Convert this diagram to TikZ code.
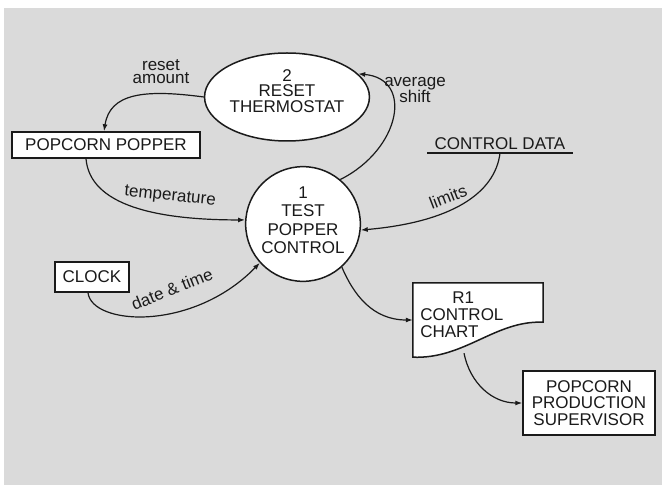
\documentclass[tikz,border=0pt]{standalone}
\usepackage{fontspec}
\setmainfont{Liberation Sans}
\usepackage{tikz}
\usetikzlibrary{positioning, arrows.meta, shapes.geometric}
\definecolor{scanGray}{HTML}{DADADA}
\definecolor{inkBlack}{HTML}{1A1A1A}
\newcommand{\dfdfont}[1]{\fontsize{17}{#1}\selectfont}

\begin{document}
\begin{tikzpicture}[x=1pt, y=1pt,
  every node/.style={font=\dfdfont{15.5}, color=inkBlack},
  entity/.style={draw=inkBlack, fill=white, line width=1.5pt, align=center, inner sep=1pt},
  process/.style={draw=inkBlack, fill=white, line width=1.5pt, align=center, inner sep=1pt},
  flow/.style={-{Latex[length=7pt, width=5pt]}, line width=1.2pt, inkBlack},
  flowlabel/.style={inner sep=1pt, align=center}]
  % page: white scan edge, gray sheet
  \useasboundingbox (0,0) rectangle (662,485);
  \fill[white] (0,0) rectangle (662,485);
  \fill[scanGray] (4,0) rectangle (662,477);

  % processes
  \node[process, ellipse, minimum width=134, minimum height=88, text depth=12pt] (rst) at (287,388) {2\\RESET\\THERMOSTAT};
  \node[process, circle, minimum size=110, text depth=8pt, font=\dfdfont{18.5}] (tpc) at (303,261) {1\\TEST\\POPPER\\CONTROL};

  % external entities
  \node[entity, minimum width=188, minimum height=26] (pop) at (106,340) {POPCORN POPPER};
  \node[entity, minimum width=74, minimum height=30] (clk) at (92,208) {CLOCK};
  \node[entity, minimum width=132, minimum height=64, font=\dfdfont{16.5}] (sprv) at (589,82) {POPCORN\\PRODUCTION\\SUPERVISOR};

  % data store
  \node[inner xsep=7pt, inner ysep=3pt] (cdat) at (500,341) {CONTROL DATA};
  \draw[line width=1.5pt, inkBlack] (cdat.south west) -- (cdat.south east);

  % report: document shape with wavy bottom
  \node[minimum width=130, minimum height=74, inner sep=0pt] (r1) at (478,165) {};
  \draw[line width=1.5pt, inkBlack, fill=white] (r1.south west) -- (r1.north west) -- (r1.north east)
    -- ([yshift=35]r1.south east) .. controls +(-48,2) and +(52,-2) .. (r1.south west) -- cycle;
  \node[anchor=north west, align=left, font=\dfdfont{17}] (r1txt) at ([xshift=4, yshift=-5]r1.north west) {\hspace*{32pt}R1\\CONTROL\\CHART};

  % flows
  \draw[flow] (rst.west) .. controls +(-60,8) and +(6,38) .. ([xshift=-2]pop.north);
  \node[flowlabel, font=\dfdfont{13}] (lbrst) at (161,413) {reset\\amount};

  \draw[flow] ([xshift=-20]pop.south) .. controls +(4,-47) and +(-88,0) .. (tpc.176);
  \node[flowlabel, rotate=-6] (lbtmp) at (170,288) {temperature};

  \draw[flow] (tpc.50) .. controls +(60,30) and +(56,-5) .. (rst.18);
  \node[flowlabel, font=\dfdfont{14}] (lbavg) at (415,395) {average\\shift};

  \draw[flow] (cdat.south) .. controls +(-5,-40) and +(91,8) .. (tpc.-6);
  \node[flowlabel, rotate=21] (lblim) at (448,288) {limits};

  \draw[flow] ([xshift=-4]clk.south) .. controls +(4,-33) and +(-67,-69) .. (tpc.222);
  \node[flowlabel, rotate=22] (lbdat) at (172,196) {date \& time};

  \draw[flow] (tpc.-48) .. controls +(12,-28) and +(-40,0) .. (r1.west);
  \draw[flow] ([xshift=-14, yshift=4]r1.south) .. controls +(6,-30) and +(-30,0) .. (sprv.west);
\end{tikzpicture}
\end{document}
